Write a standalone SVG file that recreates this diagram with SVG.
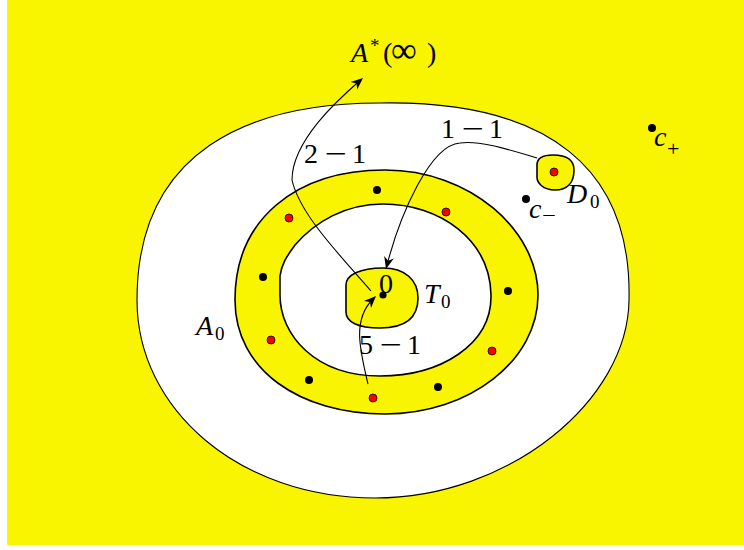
<svg xmlns="http://www.w3.org/2000/svg" width="744" height="550" viewBox="0 0 744 550">
<style>
.bg{fill:#f9f400}
.reg{fill:#f9f400;stroke:#000;stroke-width:1.6}
.hole{fill:#fff;stroke:#000;stroke-width:1.6}
.outer{fill:#fff;stroke:#000;stroke-width:1.1}
.bd{fill:#000}
.rd{fill:#f00;stroke:#000;stroke-width:0.8}
.con{fill:none;stroke:#000;stroke-width:1.1}
.head{fill:#000}
.t{font-family:"Liberation Serif",serif;font-size:28px;fill:#000}
.i{font-family:"Liberation Serif",serif;font-size:28px;font-style:italic;fill:#000}
.s{font-family:"Liberation Serif",serif;font-size:19px;fill:#000}
</style>
<rect class="bg" x="7" y="0" width="737" height="545"/>
<g id="A0">
<path class="outer" d="M380,103 C550,100 632,170 629,300 C628,400 510,498 375,498 C240,498 137,410 137,300 C137,150 250,103 380,103 Z"/>
<text class="i" x="196" y="335">A</text><text class="s" x="215" y="340">0</text>
</g>
<g id="ring">
<path class="reg" d="M385,170 C470,170 538,230 538,295 C538,360 470,414 385,414 C300,414 235,370 235,300 C235,220 295,170 385,170 Z"/>
<path class="hole" d="M383,204 C440,204 490,240 491,295 C492,345 440,376 380,376 C315,376 280,335 280,295 L280,276 C282,262 288,255 295,245 C315,222 345,204 383,204 Z"/>
<circle class="bd" cx="377" cy="190" r="4"/>
<circle class="rd" cx="289" cy="218" r="4"/>
<circle class="bd" cx="263" cy="277" r="4"/>
<circle class="rd" cx="446" cy="212" r="4"/>
<circle class="bd" cx="508" cy="291" r="4"/>
<circle class="rd" cx="271" cy="340" r="4"/>
<circle class="bd" cx="309" cy="380" r="4"/>
<circle class="rd" cx="373" cy="398" r="4"/>
<circle class="bd" cx="438" cy="387" r="4"/>
<circle class="rd" cx="492" cy="351" r="4"/>
</g>
<g id="T0">
<path class="reg" d="M383,268 C405,268 418,280 418,298 C418,318 405,328 380,328 C358,328 346,322 346,312 L346,285 C346,275 360,268 383,268 Z"/>
<circle class="bd" cx="383" cy="295" r="3.6"/>
<text class="t" x="379" y="293">0</text>
<text class="i" x="424" y="303">T</text><text class="s" x="441" y="308">0</text>
</g>
<g id="D0">
<path class="reg" d="M553,155 C567,155 574,160 574,170 C574,183 567,190 555,190 C543,190 537,183 537,177 L537,165 C537,158 543,155 553,155 Z"/>
<circle class="rd" cx="554" cy="172" r="4"/>
<text class="i" x="567" y="203">D</text><text class="s" x="590" y="208">0</text>
</g>
<g id="cminus">
<circle class="bd" cx="526" cy="199" r="4"/>
<text class="i" x="529" y="218">c</text><text class="s" x="542" y="222" transform="translate(542 0) scale(1.3 1) translate(-542 0)">−</text>
</g>
<g id="cplus">
<circle class="bd" cx="652" cy="128" r="4"/>
<text class="i" x="654" y="146">c</text><text class="s" x="667" y="156" style="font-size:22px">+</text>
</g>
<g id="Ainf">
<text class="i" x="351" y="62">A</text>
<text class="s" x="370" y="52">*</text>
<text class="t" x="383" y="62">(</text>
<text class="t" x="391" y="62" style="font-size:36px">∞</text>
<text class="t" x="427" y="62">)</text>
</g>
<g id="connectors">
<path class="con" d="M371,291 C340,255 300,215 292,180 C292,140 340,98 360,80.5"/>
<polygon class="head" points="363,78 350.7,82.1 356.6,83.6 357.2,89.6"/>
<path class="con" d="M537,158 C510,150 480,140 460,143 C430,145 400,215 387,265"/>
<polygon class="head" points="386,269 393.8,258.6 388.1,260.8 384.2,256.1"/>
<path class="con" d="M368,384 C360,350 352,320 373,299"/>
<polygon class="head" points="376,296 371,308 370,302 364,301"/>
<text class="t" x="304" y="163">2</text><text class="t" x="325" y="163" transform="translate(325 0) scale(1.4 1) translate(-325 0)">−</text><text class="t" x="352" y="163">1</text>
<text class="t" x="441" y="138">1</text><text class="t" x="462" y="138" transform="translate(462 0) scale(1.4 1) translate(-462 0)">−</text><text class="t" x="489" y="138">1</text>
<text class="t" x="359" y="354">5</text><text class="t" x="380" y="354" transform="translate(380 0) scale(1.4 1) translate(-380 0)">−</text><text class="t" x="407" y="354">1</text>
</g>
</svg>
